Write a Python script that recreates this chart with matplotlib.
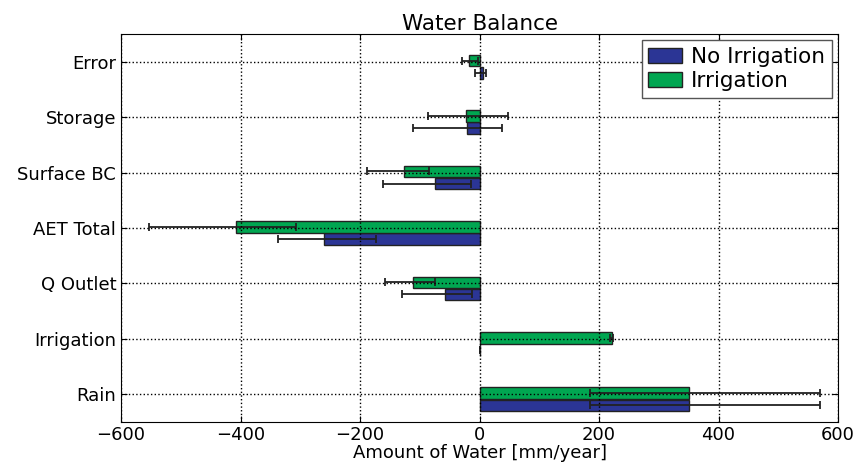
import matplotlib
matplotlib.use("Agg")
import matplotlib.pyplot as plt
import numpy as np

categories = ["Rain", "Irrigation", "Q Outlet", "AET Total", "Surface BC", "Storage", "Error"]
no_irr = [350, 0, -58, -261, -75, -21, 5]
no_irr_lo = [165, 0, 71, 76, 86, 91, 12]
no_irr_hi = [220, 0, 45, 87, 60, 59, 6]
irr = [350, 221, -111, -408, -126, -23, -17]
irr_lo = [165, 2, 47, 146, 63, 64, 13]
irr_hi = [220, 2, 36, 101, 42, 71, 14]

fig = plt.figure(figsize=(8.56, 4.66), dpi=100)
ax = fig.add_axes([0.1414, 0.0944, 0.8376, 0.8326])

y = np.arange(len(categories))
h = 0.21
ekw = dict(ecolor="#222222", elinewidth=1.3, capsize=3, capthick=1.3)
ax.barh(y - h * 0.95, no_irr, height=h, color="#2b3595", edgecolor="#222222", linewidth=1,
        xerr=[no_irr_lo, no_irr_hi], error_kw=ekw, label="No Irrigation", zorder=2)
ax.barh(y + 0.02, irr, height=h, color="#00a651", edgecolor="#222222", linewidth=1,
        xerr=[irr_lo, irr_hi], error_kw=ekw, label="Irrigation", zorder=2)

ax.set_xlim(-600, 600)
ax.set_ylim(-0.5, 6.5)
ax.set_yticks(y)
ax.set_yticklabels(categories, fontsize=13)
ax.set_xticks([-600, -400, -200, 0, 200, 400, 600])
ax.tick_params(axis="x", labelsize=13, pad=3)
ax.tick_params(direction="in", top=True, right=True, length=4)
ax.set_axisbelow(False)
ax.grid(True, linestyle=":", color="black", linewidth=1)
ax.set_xlabel("Amount of Water [mm/year]", fontsize=13, labelpad=0)
ax.set_title("Water Balance", fontsize=15.5, pad=3)
leg = ax.legend(loc="upper right", fontsize=15.5, fancybox=False, framealpha=1,
                edgecolor="#555555", handlelength=1.6, handletextpad=0.4,
                borderpad=0.3, labelspacing=0.2, borderaxespad=0.3)
fig.savefig("out.png", dpi=100)
